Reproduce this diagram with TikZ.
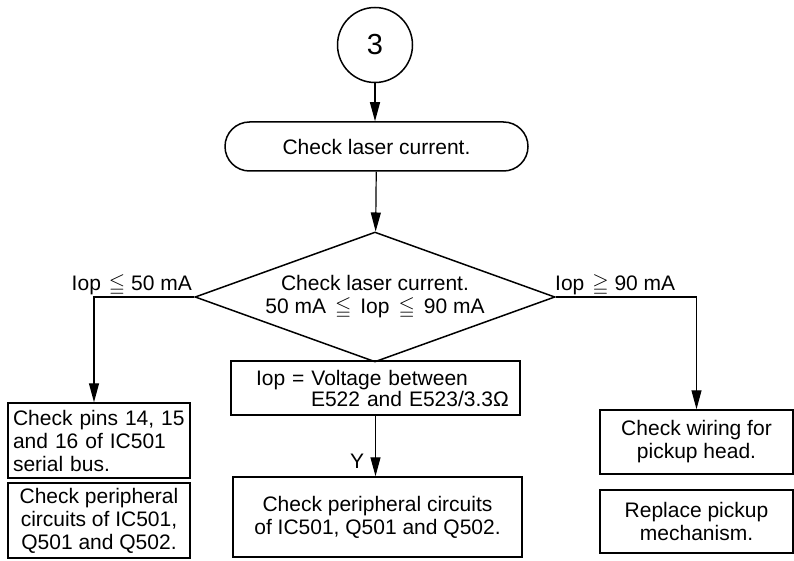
\documentclass[tikz,border=0pt]{standalone}
\usepackage{amsmath,amssymb}
\usepackage{fontspec}
\setmainfont{Liberation Sans}
\usepackage{tikz}
\usetikzlibrary{arrows.meta,positioning,shapes.geometric,shapes.misc}
\newcommand{\Ileq}{\hspace{9pt}$\leqq$\hspace{9pt}}
\tikzset{
  cnode/.style={circle, draw, line width=1.5pt, minimum size=75pt, inner sep=0pt, font=\fontsize{29}{30}\selectfont},
  tnode/.style={rounded rectangle, draw, line width=1.5pt, minimum width=303pt, minimum height=49pt, inner sep=0pt},
  dnode/.style={diamond, draw, line width=1.5pt, aspect=2.77, minimum width=360pt, minimum height=130pt, inner sep=0pt, align=center},
  bnode/.style={rectangle, draw, line width=1.5pt, inner sep=0pt, align=center},
  blab/.style={inner sep=0pt},
  farr/.style={-{Triangle[length=19pt,width=10pt]}, line width=1.2pt},
}

\begin{document}
\begin{tikzpicture}[x=1pt,y=-1pt,font=\fontsize{21}{23}\selectfont]
\useasboundingbox (0,0) rectangle (794,561);
\node[cnode] (n3) at (375,45) {3};
\node[tnode] (chk) at (376.5,146.5) {Check laser current.};
\node[dnode] (dia) at (375,297) {Check laser current.\\50 mA\Ileq Iop\Ileq 90 mA};
\node[bnode, minimum width=289pt, minimum height=54pt, text width=289pt, align=left] (iop) at (375.5,388)
  {\hspace*{25pt}Iop = Voltage between\\[-2pt]\hspace*{80pt}E522 and E523/3.3Ω};
\node[bnode, minimum width=289pt, minimum height=80pt] (peri) at (377.5,517)
  {Check peripheral circuits\\of IC501, Q501 and Q502.};
\node[bnode, minimum width=182pt, minimum height=75pt, inner xsep=5pt, text width=172pt, align=left] (pins) at (99,440.5)
  {Check pins 14, 15\\and 16 of IC501\\serial bus.};
\node[bnode, minimum width=182pt, minimum height=75pt] (peril) at (99,520.5)
  {Check peripheral\\circuits of IC501,\\Q501 and Q502.};
\node[bnode, minimum width=193pt, minimum height=64pt] (wire) at (696.5,442) {Check wiring for\\pickup head.};
\node[bnode, minimum width=193pt, minimum height=63pt] (repl) at (696.5,521.5) {Replace pickup\\mechanism.};
\node[blab, anchor=base east] (lo) at (192,290) {Iop\hspace{8pt}$\leqq$ 50 mA};
\node[blab, anchor=base west] (hi) at (555,290) {Iop\hspace{8pt}$\geqq$ 90 mA};
\node[blab, anchor=base] (yy) at (357,468) {Y};
\draw[farr] (n3) -- (n3 |- chk.north);
\draw[farr] (chk) -- (dia);
\draw[farr] (dia.west) -| ([xshift=-5pt]pins.north);
\draw[farr] (dia.east) -| (wire.north);
\draw[farr] (iop.south) -- (iop.south |- peri.north);
\end{tikzpicture}
\end{document}
